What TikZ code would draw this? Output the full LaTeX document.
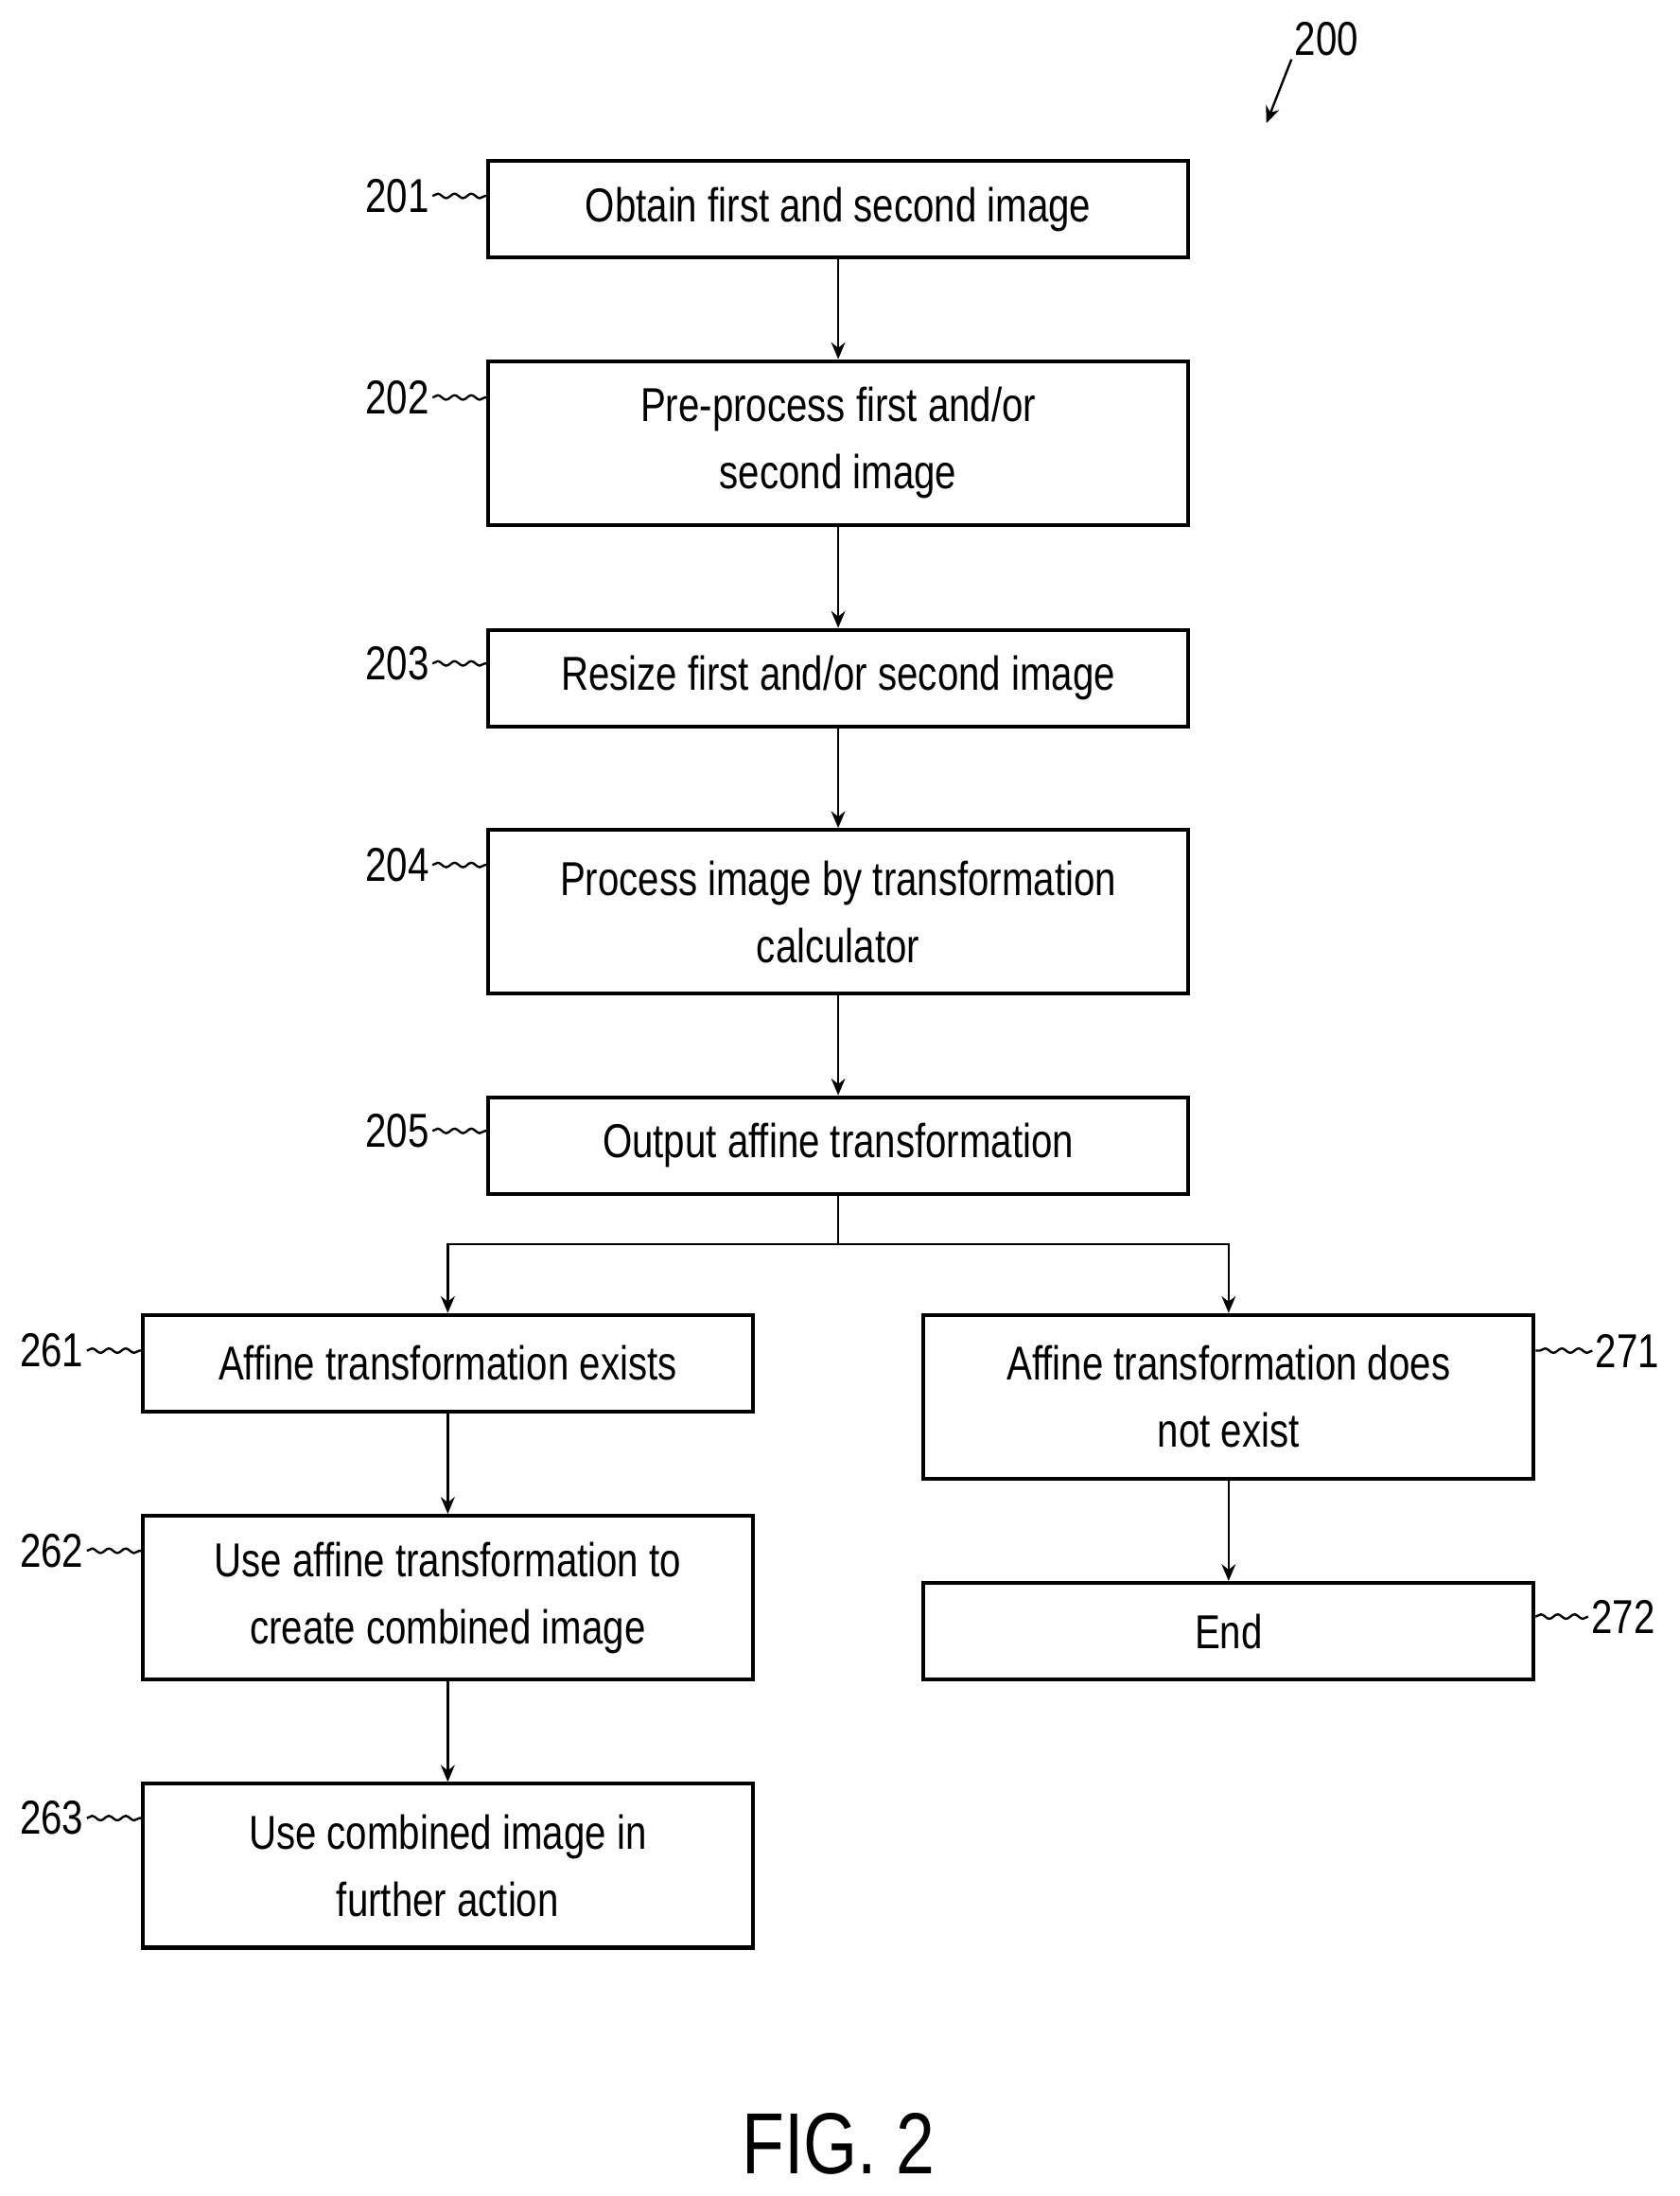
\documentclass[tikz,border=0pt]{standalone}
\usepackage{fontspec}
\setmainfont{Liberation Sans}[FakeStretch=0.8]
\usetikzlibrary{arrows.meta,decorations.pathmorphing}
\tikzset{
	stepbox/.style={draw=black, line width=1.4pt, align=center, inner sep=0pt, font=\fontsize{17}{24}\selectfont},
	short/.style={stepbox, minimum width=250pt, minimum height=34.5pt},
	tall/.style={stepbox, minimum width=250pt, minimum height=58.5pt},
	sshort/.style={stepbox, minimum width=218pt, minimum height=34.5pt},
	stall/.style={stepbox, minimum width=218pt, minimum height=58.5pt},
	ref/.style={font=\fontsize{17}{20}\selectfont, inner sep=1pt},
	flow/.style={-{Stealth[length=6pt,width=5pt]}, line width=0.8pt},
	lead/.style={line width=0.8pt, decorate, decoration={snake, amplitude=0.8pt, segment length=6pt}}
}
\begin{document}
\begin{tikzpicture}[x=0.5pt,y=-0.5pt]
	\useasboundingbox (0,0) rectangle (1200,1569);
	% main column
	\node[short](b201) at (599,149.5){Obtain first and second image};
	\node[tall](b202) at (599,316.5){Pre-process first and/or\\second image};
	\node[short](b203) at (599,484.5){Resize first and/or second image};
	\node[tall](b204) at (599,651.5){Process image by transformation\\calculator};
	\node[short](b205) at (599,818.5){Output affine transformation};
	% branches
	\coordinate (split) at (599,889);
	\coordinate (splitL) at (320,889);
	\coordinate (splitR) at (878,889);
	\node[sshort](b261) at (320,974){Affine transformation exists};
	\node[stall](b262) at (320,1141.5){Use affine transformation to\\create combined image};
	\node[stall](b263) at (320,1333){Use combined image in\\further action};
	\node[stall](b271) at (878,998){Affine transformation does\\not exist};
	\node[sshort](b272) at (878,1165.5){End};

	\draw[flow] (b201) -- (b202);
	\draw[flow] (b202) -- (b203);
	\draw[flow] (b203) -- (b204);
	\draw[flow] (b204) -- (b205);
	\draw[line width=0.8pt] (b205) -- (split);
	\draw[flow] (split) -- (splitL) -- (b261);
	\draw[flow] (split) -- (splitR) -- (b271);
	\draw[flow] (b261) -- (b262);
	\draw[flow] (b262) -- (b263);
	\draw[flow] (b271) -- (b272);

	% reference numerals
	\node[ref](l201) at (284,140){201};
	\node[ref](l202) at (284,284){202};
	\node[ref](l203) at (284,474){203};
	\node[ref](l204) at (284,618){204};
	\node[ref](l205) at (284,808){205};
	\node[ref](l261) at (37,965){261};
	\node[ref](l262) at (37,1108){262};
	\node[ref](l263) at (37,1299){263};
	\node[ref](l271) at (1163,965){271};
	\node[ref](l272) at (1160,1155){272};
	\draw[lead] (l201.east) -- (b201.north west|-l201.east);
	\draw[lead] (l202.east) -- (b202.north west|-l202.east);
	\draw[lead] (l203.east) -- (b203.north west|-l203.east);
	\draw[lead] (l204.east) -- (b204.north west|-l204.east);
	\draw[lead] (l205.east) -- (b205.north west|-l205.east);
	\draw[lead] (l261.east) -- (b261.north west|-l261.east);
	\draw[lead] (l262.east) -- (b262.north west|-l262.east);
	\draw[lead] (l263.east) -- (b263.north west|-l263.east);
	\draw[lead] (l271.west) -- (b271.north east|-l271.west);
	\draw[lead] (l272.west) -- (b272.north east|-l272.west);

	\node[ref](l200) at (948,28){200};
	\coordinate (tip200) at (905,88);
	\draw[flow] (l200.south west) -- (tip200);

	\node[font=\fontsize{31}{36}\selectfont](fig) at (599,1532){FIG. 2};
\end{tikzpicture}
\end{document}
